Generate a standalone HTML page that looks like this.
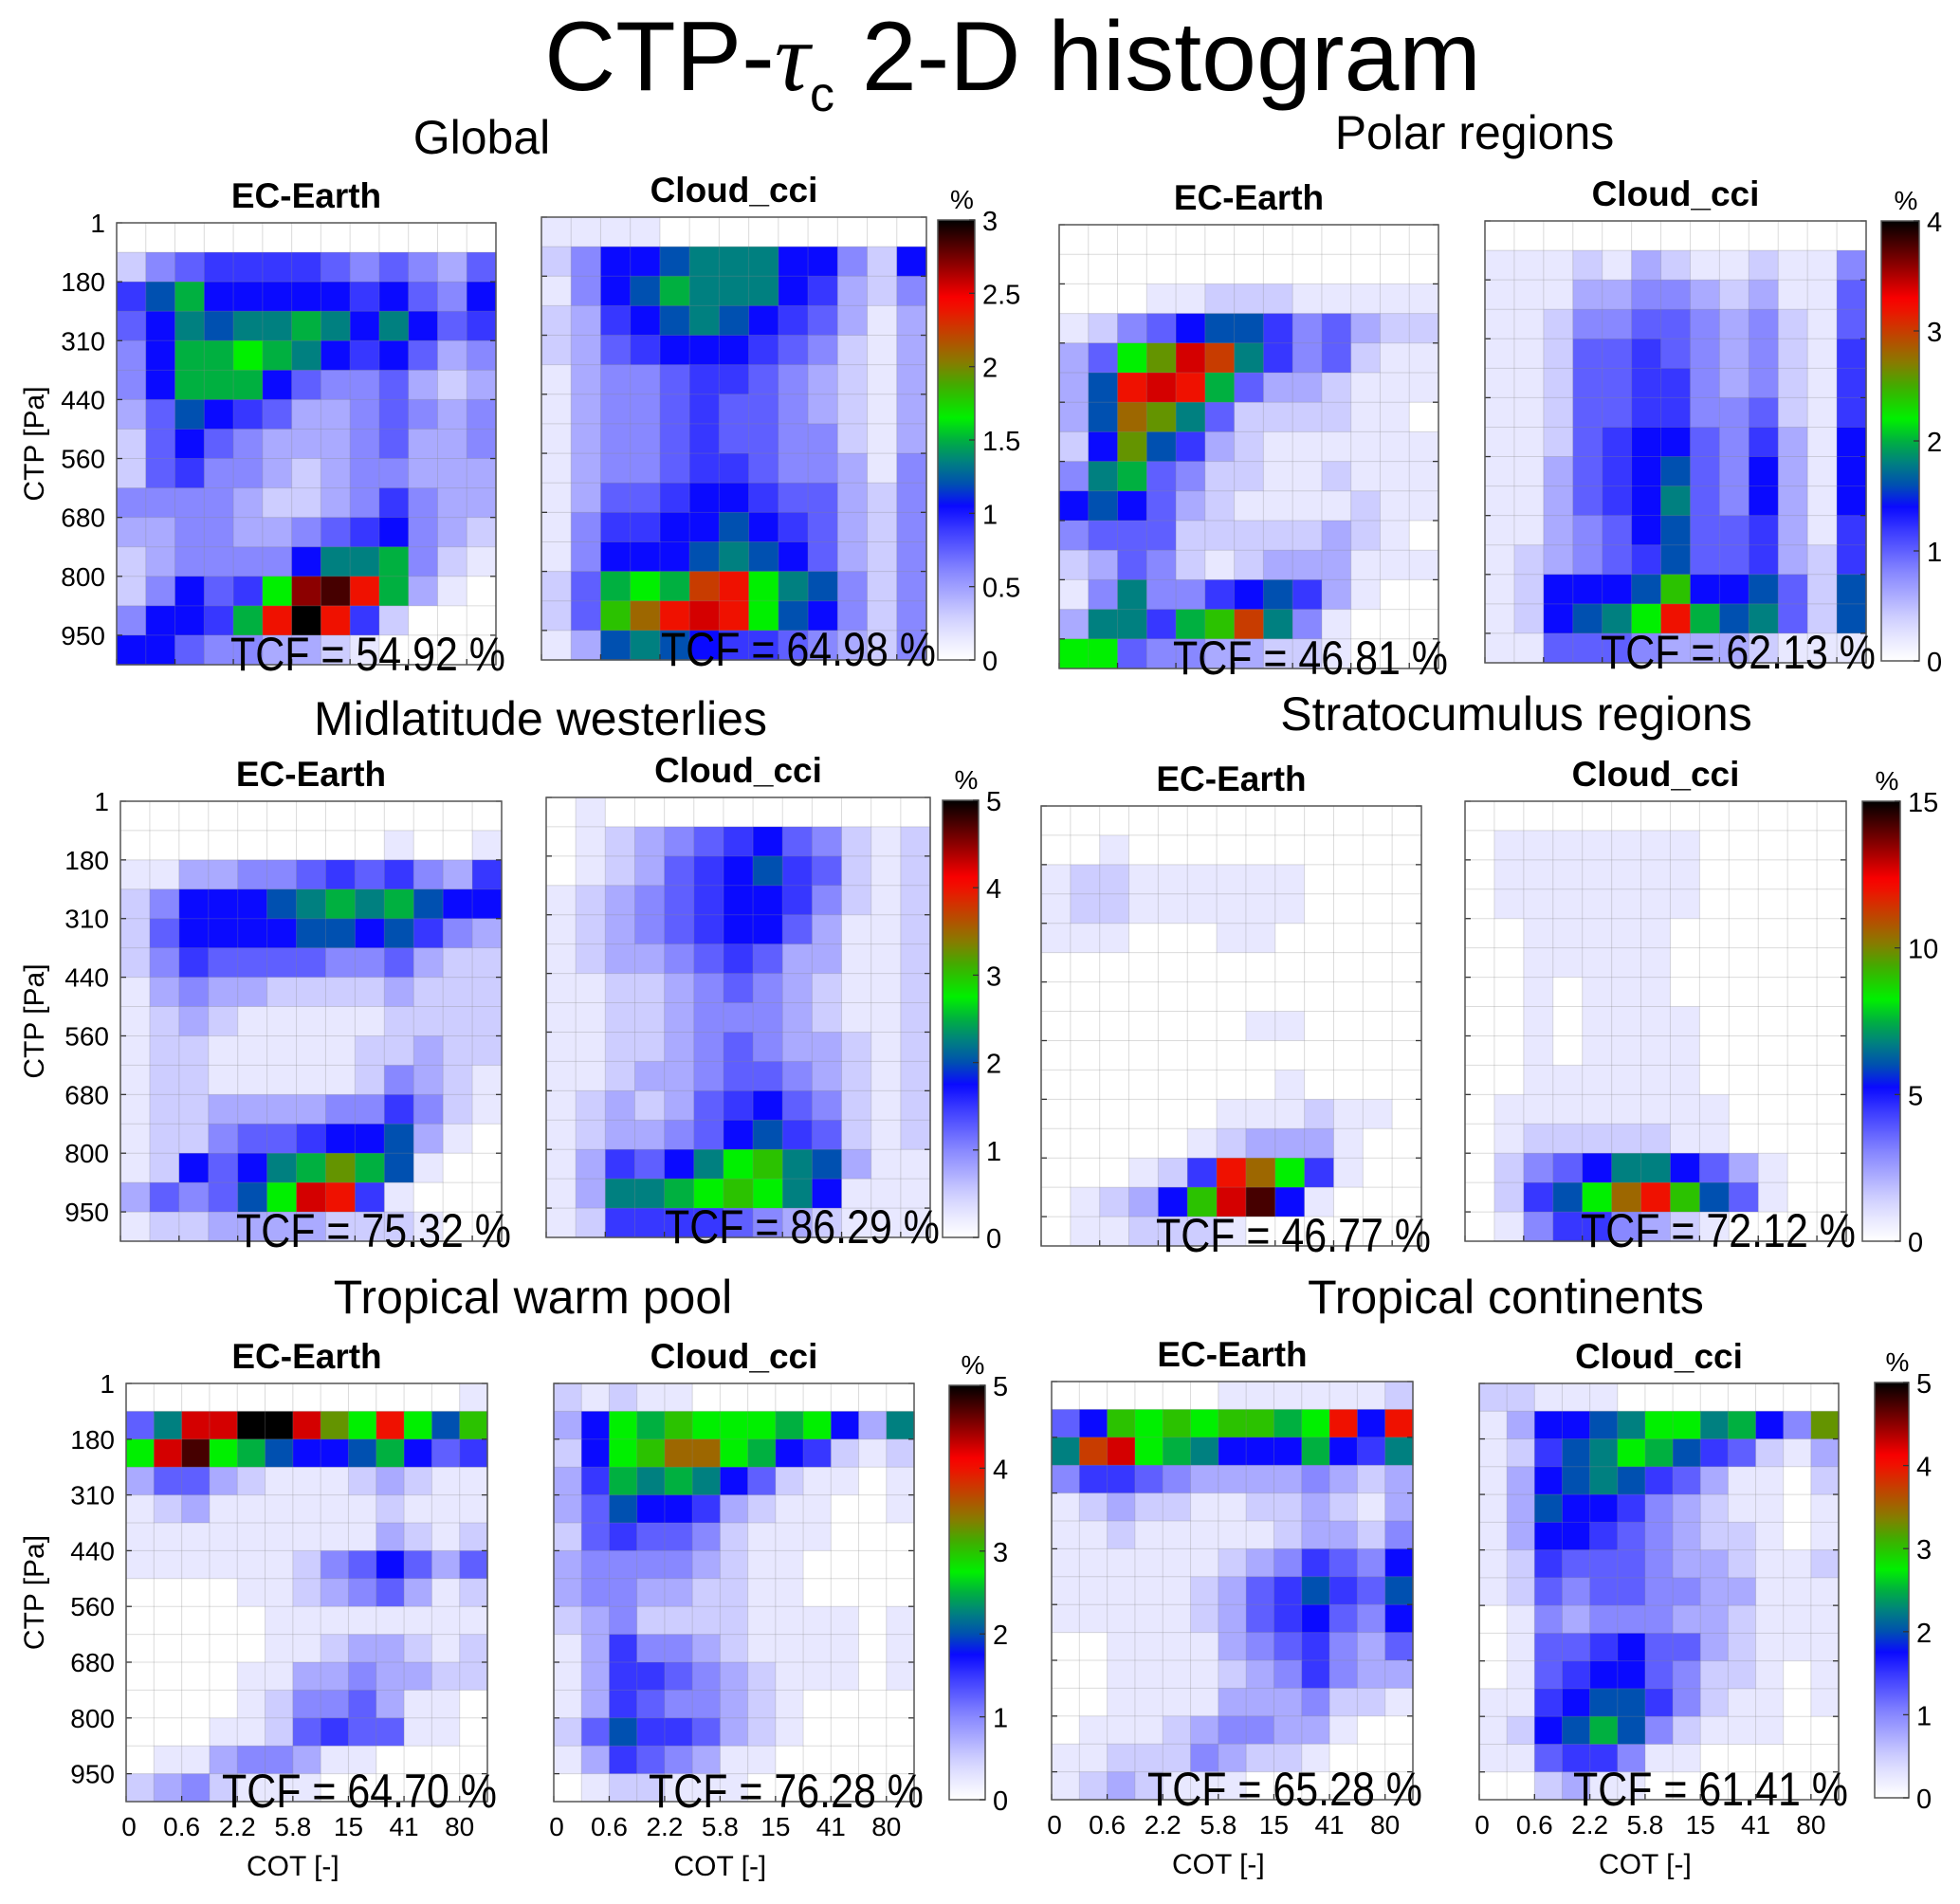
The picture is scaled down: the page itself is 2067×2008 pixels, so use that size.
<!DOCTYPE html>
<html><head><meta charset="utf-8">
<style>
html,body{margin:0;padding:0;background:#fff;}
svg{display:block;font-family:"Liberation Sans",sans-serif;}
</style></head>
<body>
<svg id="fig" width="2067" height="2008" viewBox="0 0 2067 2008" xmlns="http://www.w3.org/2000/svg">
<text x="1068" y="95" font-size="104" text-anchor="middle">CTP-<tspan font-family="Liberation Serif,serif" font-style="italic">τ</tspan><tspan font-size="52" dy="22">c</tspan><tspan dy="-22"> 2-D histogram</tspan></text>
</svg>
<script>
// level codes: index in LEVELS / 20 * colorbar max
const LEVELS = "0123456789ABCDEFGHIJK";
const yTickLabels = ["1","180","310","440","560","680","800","950"];
const xTickLabels = ["0","0.6","2.2","5.8","15","41","80"];

const globalEC = ["0000000000000","2456666545435","68A7777767547","579899A979756","47AABA9767534","47AAA75445323","3587653345434","2575433345334","2564432344333","4444322346433","3344334567432","234444799A421","24756BIJGA310","4776AGKG62000","7754433210000"];
const globalCCI = ["1111000000000","2477899977427","1478A99976324","2367898765313","2356777654213","1344566543213","1344565543213","1344565544213","1344566544314","1355677655324","1466778765324","1477789875324","25ABAFGB98424","25CEGHGB87424","1389876654324"];
const polarEC = ["0000000000000","0000000000000","0001122211111","1245788645322","35BDHF9645211","38GHGA5332111","38ED952222110","27D8632111111","49A5422112111","7875321111211","4555222223210","2354212333111","1494467863100","3996ACF941000","BB54433221000"];
const polarCCI = ["0000000000000","1112132112114","1113344323115","1124455434215","1125565434216","1125566434216","1125566445216","1125677546317","1135678547317","1135679547317","1134578556316","1234568556326","127778C778528","12789BGA89528","1155543332111"];
const midEC = ["0000000000000","0000000001001","1133445656436","2477789A9A877","2577778878643","2465555445322","1343322223222","1232111112222","1221111122322","1221111124321","1223333446421","1224556778310","127579ADA8100","35458BHG61000","1223333222100"];
const midCCI = ["0100000000000","0123456754212","0123567865212","1234567764212","1234567753112","1233456533112","1122345432112","1122344432112","1122345433212","1123345543212","1232356754212","1233457865212","136579BC98311","1399ABCB97111","1266665432111"];
const stratoEC = ["0000000000000","0010000000000","1221111110000","1221111110000","1110001100000","0000000000000","0000000000000","0000000110000","0000000000000","0000000010000","0000001112110","0000012333100","000126GEB6100","01237CHJ71000","0112221000000"];
const stratoCCI = ["0000000000000","0111111100000","0111111100000","0111111100000","0011111000000","0011111000000","0010111000000","0010111100000","0010111100000","0011111100000","0111111110000","0122222110000","0245799753100","0268BEGC85100","0146643210000"];
const tropEC = ["0000000000001","59HHKKHDBGB8C","BHJBA8778A756","3553211123211","1231111112111","1111111113212","1111112457535","0000112345312","0000011111111","0000011233212","0000113343322","0000124453110","0001125655110","0113443110000","2342111000000"];
const tropCCI = ["2121100000000","37BACBBBAB739","27BCEEBA76212","36A9A97521101","3587763211001","2565542111000","3444432110000","3443322110000","2342222111101","1364432111101","1366543211101","1365443210000","2586653210000","1365431100000","0122111000000"];
const contEC = ["0000001111112","57CBCBCCABG7G","9FHBA9777A769","4665433334323","1232211223213","1121111123324","1111112346547","1111123568658","1111123567547","0011113456435","0011112346433","0011113334221","0111234433100","1122243221000","1232111000000"];
const contCCI = ["2211100000000","137789BB9A74D","12689BA865213","1378986531102","1387764321101","1377654322101","1265554332112","1254554433111","0143444332111","0155675532111","0156775422101","1167886421101","1278A84211100","1156641100000","0023110000000"];

const panels = [
 {name:"global-ec-earth", data:globalEC, max:3, x0:123,x1:523,y0:235,y1:701, title:"EC-Earth", tcf:"TCF = 54.92 %", ylab:true, xlab:false},
 {name:"global-cloud-cci", data:globalCCI, max:3, x0:571,x1:977,y0:229,y1:696, title:"Cloud_cci", tcf:"TCF = 64.98 %"},
 {name:"polar-ec-earth", data:polarEC, max:4, x0:1117,x1:1517,y0:237,y1:705, title:"EC-Earth", tcf:"TCF = 46.81 %"},
 {name:"polar-cloud-cci", data:polarCCI, max:4, x0:1566,x1:1968,y0:233,y1:699, title:"Cloud_cci", tcf:"TCF = 62.13 %"},
 {name:"midlat-ec-earth", data:midEC, max:5, x0:127,x1:529,y0:845,y1:1309, title:"EC-Earth", tcf:"TCF = 75.32 %", ylab:true},
 {name:"midlat-cloud-cci", data:midCCI, max:5, x0:576,x1:981,y0:841,y1:1305, title:"Cloud_cci", tcf:"TCF = 86.29 %"},
 {name:"strato-ec-earth", data:stratoEC, max:15, x0:1098,x1:1499,y0:850,y1:1314, title:"EC-Earth", tcf:"TCF = 46.77 %"},
 {name:"strato-cloud-cci", data:stratoCCI, max:15, x0:1545,x1:1947,y0:845,y1:1309, title:"Cloud_cci", tcf:"TCF = 72.12 %"},
 {name:"warmpool-ec-earth", data:tropEC, max:5, x0:133,x1:514,y0:1459,y1:1900, title:"EC-Earth", tcf:"TCF = 64.70 %", ylab:true, xlab:true},
 {name:"warmpool-cloud-cci", data:tropCCI, max:5, x0:584,x1:964,y0:1459,y1:1900, title:"Cloud_cci", tcf:"TCF = 76.28 %", xlab:true},
 {name:"continents-ec-earth", data:contEC, max:5, x0:1109,x1:1490,y0:1457,y1:1898, title:"EC-Earth", tcf:"TCF = 65.28 %", xlab:true},
 {name:"continents-cloud-cci", data:contCCI, max:5, x0:1560,x1:1939,y0:1459,y1:1898, title:"Cloud_cci", tcf:"TCF = 61.41 %", xlab:true}
];
const colorbars = [
 {name:"colorbar-global", max:3, ticks:["0","0.5","1","1.5","2","2.5","3"], x0:989,x1:1028,y0:232,y1:696},
 {name:"colorbar-polar", max:4, ticks:["0","1","2","3","4"], x0:1984,x1:2024,y0:233,y1:697},
 {name:"colorbar-midlat", max:5, ticks:["0","1","2","3","4","5"], x0:994,x1:1032,y0:844,y1:1305},
 {name:"colorbar-strato", max:15, ticks:["0","5","10","15"], x0:1964,x1:2004,y0:845,y1:1309},
 {name:"colorbar-warmpool", max:5, ticks:["0","1","2","3","4","5"], x0:1001,x1:1039,y0:1461,y1:1898},
 {name:"colorbar-continents", max:5, ticks:["0","1","2","3","4","5"], x0:1977,x1:2013,y0:1458,y1:1896}
];
const regionTitles = [
 ["Global",508,162],["Polar regions",1555,157],["Midlatitude westerlies",570,775],
 ["Stratocumulus regions",1599,770],["Tropical warm pool",562,1385],["Tropical continents",1588,1385]
];

const stops = [[0,[255,255,255]],[0.05,[232,232,255]],[0.1,[205,205,255]],[0.15,[170,170,255]],[0.2,[136,136,255]],[0.25,[95,95,255]],[0.3,[55,55,255]],[0.35,[10,10,255]],[0.4,[0,80,176]],[0.45,[0,128,128]],[0.5,[0,176,64]],[0.55,[0,240,0]],[0.62,[60,176,0]],[0.68,[140,120,0]],[0.75,[200,60,0]],[0.82,[255,0,0]],[0.9,[140,0,0]],[1,[0,0,0]]];
function cmap(f){
  f=Math.max(0,Math.min(1,f));
  for(let i=1;i<stops.length;i++){
    if(f<=stops[i][0]){
      const a=stops[i-1],b=stops[i],t=(f-a[0])/(b[0]-a[0]);
      const c=a[1].map((v,k)=>Math.round(v+(b[1][k]-v)*t));
      return `rgb(${c[0]},${c[1]},${c[2]})`;
    }
  }
  return "rgb(0,0,0)";
}
const NS="http://www.w3.org/2000/svg";
const svg=document.getElementById("fig");
function mk(tag,attrs,parent){const e=document.createElementNS(NS,tag);for(const k in attrs)e.setAttribute(k,attrs[k]);(parent||svg).appendChild(e);return e;}

regionTitles.forEach(r=>{
  const t=mk("text",{x:r[1],y:r[2],"font-size":50,"text-anchor":"middle"});
  
  
  t.textContent=r[0];
});

const NC=13,NR=15;
panels.forEach(p=>{
  const g=mk("g",{});
  
  
  const cw=(p.x1-p.x0)/NC, ch=(p.y1-p.y0)/NR;
  const xs=c=>p.x0+c*cw, ys=r=>p.y0+r*ch;
  p.data.forEach((row,r)=>{
    for(let c=0;c<NC;c++){
      const v=LEVELS.indexOf(row[c]||"0")/20*p.max;
      const rc=mk("rect",{x:xs(c),y:ys(r),width:cw+0.6,height:ch+0.6,fill:cmap(v/p.max)},g);
      
      
    }
  });
  for(let c=1;c<NC;c++) mk("line",{x1:xs(c),x2:xs(c),y1:p.y0,y2:p.y1,stroke:"#888","stroke-opacity":0.3,"stroke-width":1},g);
  for(let r=1;r<NR;r++) mk("line",{x1:p.x0,x2:p.x1,y1:ys(r),y2:ys(r),stroke:"#888","stroke-opacity":0.3,"stroke-width":1},g);
  for(let r=0;r<=14;r+=2){mk("line",{x1:p.x0,x2:p.x0+6,y1:ys(r),y2:ys(r),stroke:"#333","stroke-width":1.3},g);mk("line",{x1:p.x1,x2:p.x1-6,y1:ys(r),y2:ys(r),stroke:"#333","stroke-width":1.3},g);}
  for(let c=0;c<=12;c+=2){mk("line",{x1:xs(c),x2:xs(c),y1:p.y1,y2:p.y1-6,stroke:"#333","stroke-width":1.3},g);}
  const fr=mk("rect",{x:p.x0,y:p.y0,width:p.x1-p.x0,height:p.y1-p.y0,fill:"none",stroke:"#555","stroke-width":1.5},g);
  
  
  const tt=mk("text",{x:(p.x0+p.x1)/2,y:p.y0-16,"font-size":37,"font-weight":"bold","text-anchor":"middle"},g);
  
  
  tt.textContent=p.title;
  const tc=mk("text",{x:p.x1+10,y:p.y1+6,"font-size":50,"text-anchor":"end",textLength:290,lengthAdjust:"spacingAndGlyphs"},g);
  
  
  tc.textContent=p.tcf;
  if(p.ylab){
    yTickLabels.forEach((l,i)=>{
      const t=mk("text",{x:p.x0-12,y:ys(i*2)+10,"font-size":28,"text-anchor":"end"},g);
      
      
      t.textContent=l;
    });
    const cy=(p.y0+p.y1)/2;
    const yt=mk("text",{x:46,y:cy,"font-size":30,"text-anchor":"middle",transform:`rotate(-90 46 ${cy})`},g);
    
    
    yt.textContent="CTP [Pa]";
  }
  if(p.xlab){
    xTickLabels.forEach((l,i)=>{
      const t=mk("text",{x:xs(i*2)+(i==0?3:0),y:p.y1+36,"font-size":28,"text-anchor":"middle"},g);
      
      
      t.textContent=l;
    });
    const xt=mk("text",{x:xs(6),y:p.y1+78,"font-size":30,"text-anchor":"middle"},g);
    
    
    xt.textContent="COT [-]";
  }
});

colorbars.forEach((cb,idx)=>{
  const g=mk("g",{});
  
  
  const gid="grad"+idx;
  let defs=mk("defs",{},g);
  const lg=mk("linearGradient",{id:gid,x1:0,y1:1,x2:0,y2:0},defs);
  for(let i=0;i<=40;i++){mk("stop",{offset:i/40,"stop-color":cmap(i/40)},lg);}
  mk("rect",{x:cb.x0,y:cb.y0,width:cb.x1-cb.x0,height:cb.y1-cb.y0,fill:`url(#${gid})`,stroke:"#555","stroke-width":1.5},g);
  cb.ticks.forEach((l,i)=>{
    const v=parseFloat(l)/cb.max;
    const y=cb.y1-v*(cb.y1-cb.y0);
    mk("line",{x1:cb.x1,x2:cb.x1-6,y1:y,y2:y,stroke:"#333","stroke-width":1.3},g);
    const t=mk("text",{x:cb.x1+8,y:y+11,"font-size":29},g);
    
    
    t.textContent=l;
  });
  const pc=mk("text",{x:(cb.x0+cb.x1)/2+6,y:cb.y0-12,"font-size":28,"text-anchor":"middle"},g);
  
  
  pc.textContent="%";
});
</script>
</body></html>
